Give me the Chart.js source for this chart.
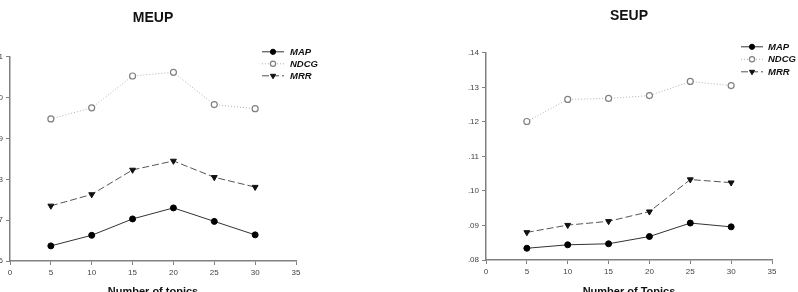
<!DOCTYPE html>
<html>
<head>
<meta charset="utf-8">
<script src="https://cdn.jsdelivr.net/npm/chart.js@4.4.1/dist/chart.umd.min.js"></script>
<style>
    html, body { margin: 0; padding: 0; background: #fff; }
    body { position: relative; width: 798px; height: 292px; overflow: hidden; }
    canvas { position: absolute; top: 0; }
    #meup-chart { left: -30px; }
    #seup-chart { left: 446px; }
</style>
</head>
<body>
<canvas id="meup-chart" width="380" height="310"></canvas>
<canvas id="seup-chart" width="380" height="310"></canvas>
<script>
// ---------------------------------------------------------------------------
// Data
// ---------------------------------------------------------------------------
const topics = [5, 10, 15, 20, 25, 30];

const meupMap  = [0.0637, 0.0663, 0.0703, 0.0730, 0.0697, 0.0664];
const meupNdcg = [0.0948, 0.0975, 0.1053, 0.1062, 0.0983, 0.0973];
const meupMrr  = [0.0735, 0.0763, 0.0823, 0.0845, 0.0805, 0.0781];

const seupMap  = [0.0834, 0.0844, 0.0847, 0.0868, 0.0907, 0.0896];
const seupNdcg = [0.1201, 0.1265, 0.1268, 0.1276, 0.1317, 0.1305];
const seupMrr  = [0.0880, 0.0901, 0.0912, 0.0940, 0.1033, 0.1024];

const seriesNames = ['MAP', 'NDCG', 'MRR'];

// ---------------------------------------------------------------------------
// Legend plugin: line sample + marker + bold italic label
// ---------------------------------------------------------------------------
const lineLegend = {
    id: 'lineLegend',
    afterDraw(chart, args, opts) {
        const { ctx, chartArea } = chart;
        const x0 = chartArea.right + opts.lineStart;
        const x1 = x0 + 22;
        const tx = chartArea.right + opts.textStart;
        chart.data.datasets.forEach((ds, i) => {
            const y = chartArea.top + opts.top + i * opts.gap;
            ctx.save();
            ctx.strokeStyle = ds.borderColor;
            ctx.lineWidth = ds.borderWidth;
            ctx.setLineDash(ds.borderDash || []);
            ctx.beginPath();
            ctx.moveTo(x0, y);
            ctx.lineTo(x1, y);
            ctx.stroke();
            ctx.setLineDash([]);
            ctx.fillStyle = ds.pointBackgroundColor;
            ctx.strokeStyle = ds.pointBorderColor;
            ctx.lineWidth = ds.pointBorderWidth;
            Chart.helpers.drawPoint(ctx, {
                pointStyle: ds.pointStyle,
                radius: ds.pointRadius - 0.4,
                rotation: ds.pointRotation || 0,
                borderWidth: ds.pointBorderWidth,
            }, (x0 + x1) / 2, y);
            ctx.fillStyle = '#111';
            ctx.font = "italic bold 9.5px 'Liberation Sans', Arial, sans-serif";
            ctx.textBaseline = 'middle';
            ctx.fillText(ds.label, tx, y + 0.5);
            ctx.restore();
        });
    },
};

// ---------------------------------------------------------------------------
// Helpers
// ---------------------------------------------------------------------------
function makeDatasets(mapVals, ndcgVals, mrrVals) {
    const pts = (vals) => topics.map((t, i) => ({ x: t, y: vals[i] }));
    return [{
        label: seriesNames[0],
        data: pts(mapVals),
        borderColor: '#333',
        borderWidth: 1,
        pointStyle: 'circle',
        pointRadius: 3,
        pointBackgroundColor: '#000',
        pointBorderColor: '#000',
        pointBorderWidth: 1,
        order: 1,
    }, {
        label: seriesNames[1],
        data: pts(ndcgVals),
        borderColor: '#b0b0b0',
        borderWidth: 1,
        borderDash: [1, 2],
        pointStyle: 'circle',
        pointRadius: 3,
        pointBackgroundColor: '#fff',
        pointBorderColor: '#808080',
        pointBorderWidth: 1.2,
        order: 3,
    }, {
        label: seriesNames[2],
        data: pts(mrrVals),
        borderColor: '#555',
        borderWidth: 1,
        borderDash: [7, 3],
        pointStyle: 'triangle',
        pointRotation: 180,
        pointRadius: 3.4,
        pointBackgroundColor: '#111',
        pointBorderColor: '#111',
        pointBorderWidth: 1,
        order: 2,
    }];
}

function renderPanel(id, title, xTitle, yMin, yMax, layout) {
    const ctx = document.getElementById(id);
    const tickFont = { family: "'Liberation Sans', Arial, sans-serif", size: 8 };
    return new Chart(ctx, {
        type: 'line',
        data: { datasets: layout.datasets },
        options: {
            responsive: false,
            animation: false,
            devicePixelRatio: 1,
            layout: { padding: { left: 0, right: 54, top: 0, bottom: 0 } },
            plugins: {
                legend: { display: false },
                tooltip: { enabled: false },
                title: {
                    display: true,
                    text: title,
                    fullSize: false,
                    color: '#111',
                    font: { family: "'Liberation Sans', Arial, sans-serif", size: 14, weight: 'bold', lineHeight: 1.2 },
                    padding: { top: layout.titleTop, bottom: layout.titleBottom },
                },
                lineLegend: layout.legend,
            },
            scales: {
                x: {
                    type: 'linear',
                    min: 0,
                    max: 35,
                    ticks: { stepSize: 5, color: '#444', font: tickFont, padding: 3, maxRotation: 0 },
                    grid: { drawOnChartArea: false, tickLength: 4, color: '#808080' },
                    border: { color: '#808080', width: 1.5 },
                    title: {
                        display: true,
                        text: xTitle,
                        color: '#111',
                        font: { family: "'Liberation Sans', Arial, sans-serif", size: 11, weight: 'bold', lineHeight: 1.2 },
                        padding: { top: 0, bottom: layout.xTitleBottom },
                    },
                    afterFit: (s) => { s.height = layout.xHeight; },
                },
                y: {
                    min: yMin,
                    max: yMax,
                    ticks: {
                        stepSize: 0.01,
                        color: '#444',
                        font: tickFont,
                        padding: 3,
                        callback: (v) => v.toFixed(2).replace(/^0/, ''),
                    },
                    grid: { drawOnChartArea: false, tickLength: 4, color: '#808080' },
                    border: { color: '#808080', width: 1.5 },
                    afterFit: (s) => { s.width = 40; },
                },
            },
        },
        plugins: [lineLegend],
    });
}

// ---------------------------------------------------------------------------
// Panels
// ---------------------------------------------------------------------------
renderPanel('meup-chart', 'MEUP', 'Number of topics', 0.06, 0.11, {
    datasets: makeDatasets(meupMap, meupNdcg, meupMrr),
    titleTop: 10,
    titleBottom: 30,
    xHeight: 49,
    xTitleBottom: 11,
    legend: { lineStart: -34, textStart: -6, top: -5, gap: 12 },
});

renderPanel('seup-chart', 'SEUP', 'Number of Topics', 0.08, 0.14, {
    datasets: makeDatasets(seupMap, seupNdcg, seupMrr),
    titleTop: 7.5,
    titleBottom: 28.5,
    xHeight: 50,
    xTitleBottom: 11,
    legend: { lineStart: -31, textStart: -4, top: -6, gap: 12.5 },
});
</script>
</body>
</html>
